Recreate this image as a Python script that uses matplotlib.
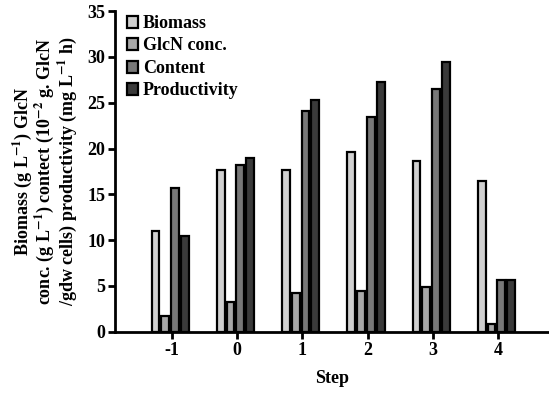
import numpy as np
import matplotlib
matplotlib.use("Agg")
import matplotlib.pyplot as plt

steps = ["-1", "0", "1", "2", "3", "4"]
series_names = ["Biomass", "GlcN conc.", "Content", "Productivity"]
biomass = [11.0, 17.7, 17.7, 19.6, 18.6, 16.5]
glcn = [1.7, 3.2, 4.2, 4.5, 4.9, 0.9]
content = [15.7, 18.2, 24.1, 23.4, 26.5, 5.7]
productivity = [10.4, 19.0, 25.3, 27.3, 29.4, 5.6]
colors = ["#d0d0d0", "#a8a8a8", "#787878", "#3a3a3a"]

plt.rcParams['font.family'] = ['Liberation Serif', 'DejaVu Serif']
plt.rcParams['font.weight'] = 'bold'
plt.rcParams['axes.labelweight'] = 'bold'
plt.rcParams['mathtext.fontset'] = 'stix'
plt.rcParams['mathtext.default'] = 'bf'

fig = plt.figure(figsize=(5.49, 3.95), dpi=100)
ax = fig.add_axes([0.2095, 0.16, 0.7905, 0.812])

x = np.arange(len(steps)) - 1
width = 0.12
gap = 0.15
data = [biomass, glcn, content, productivity]
for i, vals in enumerate(data):
    ax.bar(x + (i - 1.5) * gap - 0.025, vals, width, color=colors[i],
           edgecolor="black", linewidth=1.6, label=series_names[i])

ax.set_xlim(-1.87, 4.78)
ax.set_ylim(0, 35)
ax.set_yticks(range(0, 36, 5))
ax.set_xticks(x)
ax.set_xticklabels(steps)
ax.spines['top'].set_visible(False)
ax.spines['right'].set_visible(False)
ax.spines['left'].set_linewidth(2)
ax.spines['bottom'].set_linewidth(2)
ax.tick_params(width=2, length=5, labelsize=13, pad=2)

ax.set_xlabel("Step", fontsize=13, labelpad=8)
ax.set_ylabel("Biomass (g L$^{-1}$) GlcN\n"
              "conc. (g L$^{-1}$) contect (10$^{-2}$ g. GlcN\n"
              "/gdw cells) productivity (mg L$^{-1}$ h)",
              fontsize=13, linespacing=0.95, labelpad=6)

leg = ax.legend(loc="upper left", bbox_to_anchor=(0.01, 1.01), frameon=False,
                fontsize=13, handlelength=0.65, handleheight=0.65,
                handletextpad=0.25, labelspacing=0.3, borderaxespad=0)

fig.savefig("out.png", dpi=100)
